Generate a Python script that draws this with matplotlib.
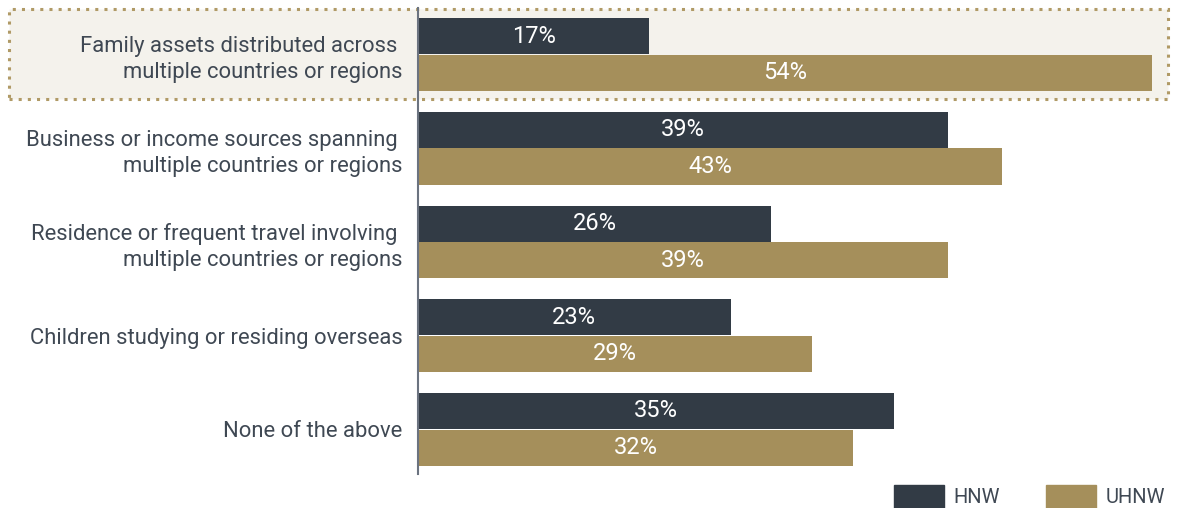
import numpy as np
import matplotlib.pyplot as plt
from matplotlib.patches import Rectangle, Patch

plt.rcParams['font.family'] = ['Roboto', 'DejaVu Sans']

categories = [
    "Family assets distributed across \nmultiple countries or regions",
    "Business or income sources spanning \nmultiple countries or regions",
    "Residence or frequent travel involving \nmultiple countries or regions",
    "Children studying or residing overseas",
    "None of the above",
]
hnw = [17, 39, 26, 23, 35]
uhnw = [54, 43, 39, 29, 32]

c_hnw = "#323b45"
c_uhnw = "#a58f5b"
c_text = "#3f4853"

W, H = 1179, 508
fig = plt.figure(figsize=(W / 100, H / 100), dpi=100)
ax = fig.add_axes([418 / W, 1 - 474 / H, (W - 418) / W, (474 - 8) / H])
ax.patch.set_alpha(0)

# highlight box behind the first group
fig.add_artist(Rectangle((9 / W, 1 - 99 / H), (1168 - 9) / W, (99 - 9) / H,
                         transform=fig.transFigure, facecolor="#f4f2ec",
                         edgecolor="#b09a66", linestyle=(0, (1, 2)), linewidth=2.2,
                         zorder=-1))

y = np.arange(len(categories))
bh = 0.385
b1 = ax.barh(y - bh / 2 - 0.003, hnw, height=bh, color=c_hnw)
b2 = ax.barh(y + bh / 2 + 0.003, uhnw, height=bh, color=c_uhnw)
for bars, vals in ((b1, hnw), (b2, uhnw)):
    for r, v in zip(bars, vals):
        ax.text(r.get_width() / 2, r.get_y() + r.get_height() / 2, f"{v}%",
                ha="center", va="center", color="white", fontsize=17)

ax.set_xlim(0, 56.0)
ax.set_ylim(4.477, -0.496)
ax.set_yticks(y)
ax.set_yticklabels(categories, fontsize=15.8, color=c_text, ha="right",
                   multialignment="right", linespacing=1.32)
ax.tick_params(axis="y", length=0, pad=11)
ax.set_xticks([])
for s in ("top", "right", "bottom"):
    ax.spines[s].set_visible(False)
ax.spines["left"].set_color("#6b7380")
ax.spines["left"].set_linewidth(1.5)

handles = [Patch(color=c_hnw, label="HNW"), Patch(color=c_uhnw, label="UHNW")]
fig.legend(handles=handles, loc="lower right", bbox_to_anchor=(1183 / W, -18 / H),
           ncol=2, frameon=False, fontsize=14.5, labelcolor=c_text,
           handlelength=2.5, handleheight=1.4, columnspacing=2.3, handletextpad=0.45)

fig.savefig("out.png", dpi=100)
